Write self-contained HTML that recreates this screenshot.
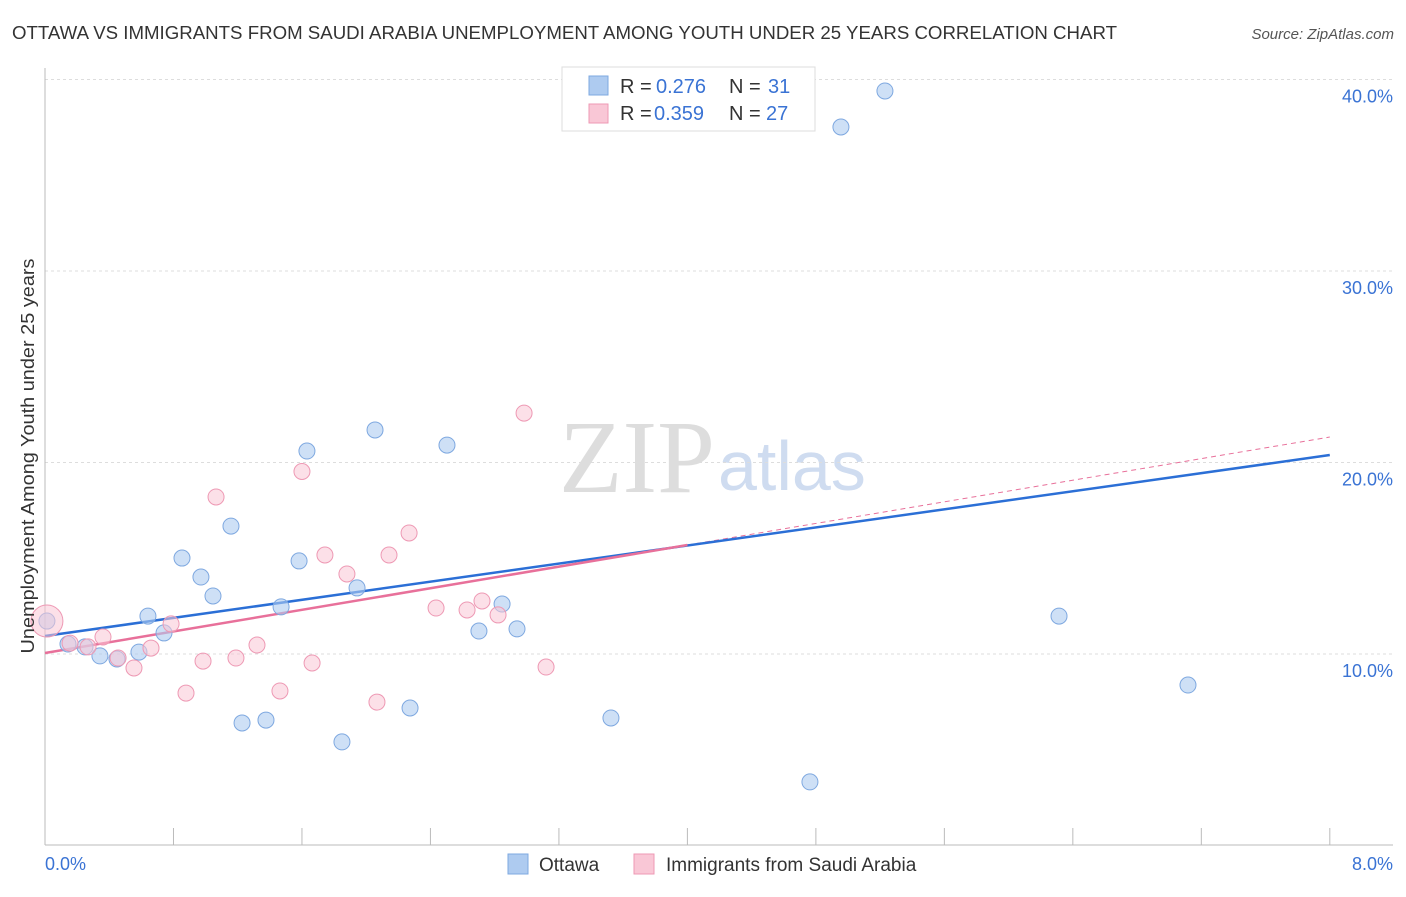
<!DOCTYPE html>
<html><head><meta charset="utf-8">
<style>
body{margin:0;background:#fff;font-family:"Liberation Sans",sans-serif;}
svg text{font-family:"Liberation Sans",sans-serif;}
</style></head>
<body>
<svg id="chart" width="1406" height="892" xmlns="http://www.w3.org/2000/svg">
<text x="12" y="39" font-size="18" fill="#333" textLength="1105" lengthAdjust="spacingAndGlyphs">OTTAWA VS IMMIGRANTS FROM SAUDI ARABIA UNEMPLOYMENT AMONG YOUTH UNDER 25 YEARS CORRELATION CHART</text>
<text x="1394" y="39" font-size="15" fill="#555" font-style="italic" text-anchor="end">Source: ZipAtlas.com</text>
<text x="715" y="492" font-size="104" fill="#ddd" text-anchor="end" font-family="Liberation Serif" style="font-family:'Liberation Serif',serif">ZIP</text>
<text x="718" y="490" font-size="70" fill="#cfdcf0">atlas</text>
<g id="grid"></g>
<g id="axes"></g>
<g id="lines"></g>
<g id="points"></g>
<text x="34" y="456" font-size="18" fill="#333" text-anchor="middle" transform="rotate(-90 34 456)" textLength="395" lengthAdjust="spacingAndGlyphs">Unemployment Among Youth under 25 years</text>
<text x="45" y="870" font-size="18" fill="#3a73d4">0.0%</text>
<text x="1393" y="870" font-size="18" fill="#3a73d4" text-anchor="end">8.0%</text>
<g>
<rect x="562" y="67" width="253" height="64" fill="#fff" stroke="#ddd"/>
<rect x="589" y="76" width="19" height="19" fill="#aecbf0" stroke="#7ea8e0"/>
<text x="620" y="93" font-size="20" fill="#333">R =</text>
<text x="656" y="93" font-size="20" fill="#3a73d4">0.276</text>
<text x="729" y="93" font-size="20" fill="#333">N =</text>
<text x="768" y="93" font-size="20" fill="#3a73d4">31</text>
<rect x="589" y="104" width="19" height="19" fill="#f9c7d6" stroke="#ee99b4"/>
<text x="620" y="120" font-size="20" fill="#333">R =</text>
<text x="654" y="120" font-size="20" fill="#3a73d4">0.359</text>
<text x="729" y="120" font-size="20" fill="#333">N =</text>
<text x="766" y="120" font-size="20" fill="#3a73d4">27</text>
</g>
<g>
<rect x="508" y="854" width="20" height="20" fill="#aecbf0" stroke="#7ea8e0"/>
<text x="539" y="871" font-size="19" fill="#333">Ottawa</text>
<rect x="634" y="854" width="20" height="20" fill="#f9c7d6" stroke="#ee99b4"/>
<text x="666" y="871" font-size="19" fill="#333">Immigrants from Saudi Arabia</text>
</g>
</svg>
<script>
const blueX=[0.012,0.143,0.249,0.342,0.448,0.585,0.641,0.741,0.853,0.971,1.046,1.158,1.227,1.376,1.470,1.582,1.631,1.849,1.943,2.055,2.273,2.503,2.702,2.846,2.939,3.524,4.763,4.956,5.230,6.314,7.117];
const blueY=[11.72,10.52,10.37,9.90,9.74,10.10,11.98,11.10,15.01,14.02,13.03,16.68,6.40,6.55,12.46,14.86,20.60,5.41,13.45,21.70,7.18,20.91,11.20,12.61,11.31,6.66,3.32,37.52,39.40,11.98,8.38];
const pinkX=[0.012,0.156,0.268,0.361,0.455,0.554,0.660,0.785,0.878,0.984,1.065,1.189,1.320,1.463,1.600,1.663,1.743,1.880,2.067,2.142,2.267,2.435,2.628,2.721,2.821,2.983,3.120];
const pinkY=[11.72,10.57,10.37,10.89,9.79,9.27,10.31,11.57,7.96,9.63,18.20,9.79,10.47,8.07,19.53,9.53,15.17,14.18,7.49,15.17,16.32,12.40,12.30,12.77,12.04,22.58,9.32];
const yTicks=[10,20,30,40];
const blueTrend=[10.94,20.39];
const pinkTrend=[10.05,21.33];
const NS='http://www.w3.org/2000/svg';
function sx(v){return 45+v*160.6;}
function sy(v){return 845.5-v*19.15;}
function mk(tag,attrs,parent){const e=document.createElementNS(NS,tag);for(const k in attrs)e.setAttribute(k,attrs[k]);document.getElementById(parent).appendChild(e);return e;}
yTicks.forEach(t=>{
 const l=mk('line',{x1:45,x2:1393,y1:sy(t),y2:sy(t),stroke:'#ddd','stroke-dasharray':'3,3'},'grid');
 
 
 const tx=mk('text',{x:1393,y:sy(t)+23,'font-size':18,fill:'#3a73d4','text-anchor':'end'},'grid');
 tx.textContent=t.toFixed(1)+'%';
 
 
});
const ax=mk('line',{x1:45,x2:1393,y1:845,y2:845,stroke:'#bbb'},'axes');


const ay=mk('line',{x1:45,x2:45,y1:68,y2:845,stroke:'#bbb'},'axes');


for(let i=0;i<=10;i++){
 const t=mk('line',{x1:sx(i*0.8),x2:sx(i*0.8),y1:828,y2:845,stroke:'#bbb'},'axes');
 
 
}
const pd=mk('line',{x1:sx(4),y1:sy(pinkTrend[0]+(pinkTrend[1]-pinkTrend[0])/2),x2:sx(8),y2:sy(pinkTrend[1]),stroke:'#e8709a','stroke-width':1,'stroke-dasharray':'5,4'},'lines');


const bl=mk('line',{x1:sx(0),y1:sy(blueTrend[0]),x2:sx(8),y2:sy(blueTrend[1]),stroke:'#2b6fd6','stroke-width':2.5},'lines');


const pl=mk('line',{x1:sx(0),y1:sy(pinkTrend[0]),x2:sx(4),y2:sy(pinkTrend[0]+(pinkTrend[1]-pinkTrend[0])/2),stroke:'#e8709a','stroke-width':2.5},'lines');


blueX.forEach((x,i)=>{
 const c=mk('circle',{cx:sx(x),cy:sy(blueY[i]),r:8,fill:'rgba(174,203,240,0.6)',stroke:'#7ea8e0','stroke-width':1},'points');
 
 
});
pinkX.forEach((x,i)=>{
 const c=mk('circle',{cx:sx(x),cy:sy(pinkY[i]),r:i===0?16:8,fill:'rgba(249,199,214,0.55)',stroke:'#ee99b4','stroke-width':1},'points');
 
 
});
</script>
</body></html>
